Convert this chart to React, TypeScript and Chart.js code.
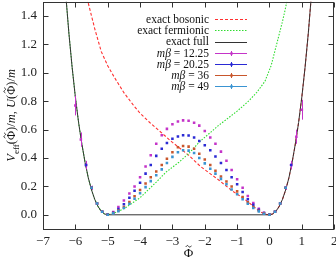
import React, { useEffect, useRef } from "react";
import { Chart, registerables } from "chart.js";

Chart.register(...registerables);

const FONT = "'Liberation Serif', 'Times New Roman', serif";

const xTicks = [-7, -6, -5, -4, -3, -2, -1, 0, 1, 2];
const yTicks = [0, 0.2, 0.4, 0.6, 0.8, 1.0, 1.2, 1.4];

// exact full
const phiFull = [-6.3, -6.2, -6.1, -6.0, -5.9, -5.8, -5.7, -5.6, -5.5, -5.4, -5.3, -5.2, -5.1, -5.0, 0, 0.1, 0.2, 0.3, 0.4, 0.5, 0.6, 0.7, 0.8, 0.9, 1.0, 1.1, 1.2, 1.3];
const uFull = [1.56, 1.28, 1.04, 0.83, 0.65, 0.5, 0.37, 0.26, 0.175, 0.108, 0.059, 0.025, 0.006, 0, 0, 0.006, 0.025, 0.059, 0.108, 0.175, 0.26, 0.37, 0.5, 0.65, 0.83, 1.04, 1.28, 1.56];

// exact bosonic
const phiBos = [-5.66, -5.61, -5.5, -5.4, -5.3, -5.2, -5.0, -4.8, -4.5, -4.2, -4.0, -3.7, -3.4, -3.0, -2.5, -2.13, -1.6, -1.16, -0.8, -0.55, -0.29, -0.1, 0, 0.1, 0.2, 0.3, 0.4, 0.5, 0.6, 0.7, 0.8, 0.9, 1.0, 1.1, 1.2, 1.3];
const vBos = [1.56, 1.5, 1.4, 1.31, 1.23, 1.15, 1.05, 0.97, 0.86, 0.77, 0.715, 0.65, 0.59, 0.51, 0.42, 0.34, 0.25, 0.17, 0.115, 0.07, 0.02, 0.003, 0, 0.006, 0.025, 0.059, 0.108, 0.175, 0.26, 0.37, 0.5, 0.65, 0.83, 1.04, 1.28, 1.56];

// exact fermionic
const phiFer = [-6.3, -6.2, -6.1, -6.0, -5.9, -5.8, -5.7, -5.6, -5.5, -5.4, -5.3, -5.2, -5.1, -5.0, -4.7, -4.45, -4.0, -3.5, -3.2, -2.8, -2.5, -2.18, -1.57, -1.0, -0.65, -0.4, -0.14, 0.05, 0.22, 0.4, 0.5, 0.6];
const vFer = [1.56, 1.28, 1.04, 0.83, 0.65, 0.5, 0.37, 0.26, 0.175, 0.108, 0.059, 0.025, 0.006, 0, 0.02, 0.05, 0.12, 0.23, 0.3, 0.37, 0.43, 0.51, 0.63, 0.73, 0.8, 0.86, 0.94, 1.05, 1.2, 1.36, 1.46, 1.58];

// lattice data
const phiMC = [-6, -5.83, -5.67, -5.5, -5.33, -5.17, -5, -4.83, -4.67, -4.5, -4.33, -4.17, -4, -3.83, -3.67, -3.5, -3.33, -3.17, -3, -2.83, -2.67, -2.5, -2.33, -2.17, -2, -1.83, -1.67, -1.5, -1.33, -1.17, -1, -0.83, -0.67, -0.5, -0.33, -0.17, 0, 0.17, 0.33, 0.5, 0.67, 0.83, 1];

const v1225 = [0.77, 0.53, 0.35, 0.19, 0.08, 0.022,
  0.003, 0.02, 0.055, 0.1, 0.15, 0.2, 0.265, 0.34, 0.42, 0.5, 0.56, 0.605, 0.638, 0.657, 0.665, 0.662,
  0.648, 0.628, 0.59, 0.545, 0.5, 0.445, 0.38, 0.315, 0.25, 0.19, 0.133, 0.083, 0.043, 0.014, 0.002,
  0.022, 0.08, 0.19, 0.35, 0.55, 0.74];
const e1225 = [0.07, 0.05, 0.03, 0.015, 0.008, 0.004,
  0, 0, 0, 0, 0, 0, 0, 0, 0, 0, 0, 0, 0, 0, 0, 0,
  0, 0, 0, 0, 0, 0, 0, 0, 0, 0, 0, 0, 0, 0, 0,
  0.004, 0.008, 0.015, 0.03, 0.05, 0.07];

const v2025 = [null, null, 0.35, 0.19, 0.08, 0.022,
  0.002, 0.015, 0.04, 0.075, 0.12, 0.17, 0.225, 0.29, 0.35, 0.415, 0.465, 0.505, 0.535, 0.552, 0.56, 0.558,
  0.545, 0.52, 0.49, 0.455, 0.41, 0.365, 0.315, 0.265, 0.215, 0.16, 0.11, 0.07, 0.035, 0.012, 0.002,
  0.022, 0.08, 0.19, 0.35, null, null];

const v36 = [null, null, null, 0.19, 0.08, 0.022,
  0.001, 0.012, 0.03, 0.055, 0.09, 0.13, 0.175, 0.22, 0.265, 0.305, 0.35, 0.395, 0.44, 0.475, 0.485, 0.48,
  0.465, 0.43, 0.39, 0.35, 0.31, 0.27, 0.235, 0.2, 0.165, 0.125, 0.088, 0.055, 0.028, 0.01, 0.001,
  0.022, 0.08, 0.19, null, null, null];

const v49 = [null, null, null, 0.19, 0.08, 0.022,
  0.001, 0.01, 0.026, 0.048, 0.078, 0.113, 0.152, 0.195, 0.237, 0.278, 0.32, 0.365, 0.408, 0.44, 0.455, 0.452,
  0.435, 0.4, 0.362, 0.325, 0.29, 0.253, 0.215, 0.178, 0.145, 0.11, 0.078, 0.048, 0.024, 0.008, 0.001,
  0.022, 0.08, 0.19, null, null, null];

const C = {
  bos: "#ff3030",
  fer: "#30dc30",
  full: "#333333",
  m1: "#c434c8",
  m2: "#2a2ad4",
  m3: "#c8562c",
  m4: "#3a94d2",
};

type Part = { t: string; it?: boolean; sub?: boolean; tilde?: boolean };

const legendRows: { parts: Part[]; color: string; dash: number[]; bar: boolean }[] = [
  { parts: [{ t: "exact bosonic" }], color: C.bos, dash: [3, 2], bar: false },
  { parts: [{ t: "exact fermionic" }], color: C.fer, dash: [1.5, 1.5], bar: false },
  { parts: [{ t: "exact full" }], color: C.full, dash: [], bar: false },
  { parts: [{ t: "m", it: true }, { t: "β", it: true }, { t: " = 12.25" }], color: C.m1, dash: [], bar: true },
  { parts: [{ t: "m", it: true }, { t: "β", it: true }, { t: " = 20.25" }], color: C.m2, dash: [], bar: true },
  { parts: [{ t: "m", it: true }, { t: "β", it: true }, { t: " = 36" }], color: C.m3, dash: [], bar: true },
  { parts: [{ t: "m", it: true }, { t: "β", it: true }, { t: " = 49" }], color: C.m4, dash: [], bar: true },
];

const yTitle: Part[] = [
  { t: "V", it: true }, { t: "eff", sub: true }, { t: "(" }, { t: "Φ", tilde: true }, { t: ")/" }, { t: "m", it: true },
  { t: ", " }, { t: "U", it: true }, { t: "(" }, { t: "Φ", tilde: true }, { t: ")/" }, { t: "m", it: true },
];
const xTitle: Part[] = [{ t: "Φ", tilde: true }];

function partFont(p: Part, size: number) {
  const s = p.sub ? Math.round(size * 0.7) : size;
  return `${p.it ? "italic " : ""}${s}px ${FONT}`;
}
function measureParts(ctx: CanvasRenderingContext2D, parts: Part[], size: number) {
  let w = 0;
  for (const p of parts) { ctx.font = partFont(p, size); w += ctx.measureText(p.t).width; }
  return w;
}
function drawTilde(ctx: CanvasRenderingContext2D, cx: number, cy: number, w: number, color: string) {
  ctx.save();
  ctx.strokeStyle = color;
  ctx.lineWidth = 0.9;
  ctx.setLineDash([]);
  ctx.beginPath();
  ctx.moveTo(cx - w / 2, cy + 0.6);
  ctx.bezierCurveTo(cx - w / 4, cy - 1.6, cx - w / 8, cy - 0.8, cx, cy);
  ctx.bezierCurveTo(cx + w / 8, cy + 0.8, cx + w / 4, cy + 1.6, cx + w / 2, cy - 0.6);
  ctx.stroke();
  ctx.restore();
}
// baseline: alphabetic
function drawParts(ctx: CanvasRenderingContext2D, parts: Part[], x: number, y: number, size: number) {
  let cx = x;
  for (const p of parts) {
    ctx.font = partFont(p, size);
    const w = ctx.measureText(p.t).width;
    ctx.fillText(p.t, cx, p.sub ? y + size * 0.28 : y);
    if (p.tilde) drawTilde(ctx, cx + w / 2, y - size * 0.82, size * 0.42, ctx.fillStyle as string);
    cx += w;
  }
}

function pts(xs: number[], ys: (number | null)[], es?: number[]) {
  const out: { x: number; y: number; e: number }[] = [];
  xs.forEach((x, i) => {
    const y = ys[i];
    if (y == null) return;
    out.push({ x, y, e: es ? es[i] : 0 });
  });
  return out;
}

const decor = {
  id: "decor",
  afterDatasetDraw(chart: any, args: any) {
    const ds = chart.data.datasets[args.index];
    if (!ds.errBars) return;
    const ctx = chart.ctx as CanvasRenderingContext2D;
    const xs = chart.scales.x, ys = chart.scales.y, a = chart.chartArea;
    ctx.save();
    ctx.beginPath();
    ctx.rect(a.left, a.top, a.right - a.left, a.bottom - a.top);
    ctx.clip();
    ctx.strokeStyle = ds.backgroundColor;
    ctx.lineWidth = 1;
    for (const p of ds.data) {
      if (!p.e) continue;
      const px = Math.round(xs.getPixelForValue(p.x)) + 0.5;
      ctx.beginPath();
      ctx.moveTo(px, ys.getPixelForValue(p.y - p.e));
      ctx.lineTo(px, ys.getPixelForValue(p.y + p.e));
      ctx.stroke();
    }
    ctx.restore();
  },
  afterDraw(chart: any) {
    const ctx = chart.ctx as CanvasRenderingContext2D;
    const a = chart.chartArea;
    const xs = chart.scales.x, ys = chart.scales.y;
    const L = Math.round(a.left) + 0.5, R = Math.round(a.right) - 0.5;
    const T = Math.round(a.top) + 0.5, B = Math.round(a.bottom) + 0.5;
    ctx.save();
    ctx.strokeStyle = "#333";
    ctx.lineWidth = 1;
    ctx.setLineDash([]);
    ctx.strokeRect(L, T, R - L, B - T);
    const tl = 5;
    ctx.beginPath();
    for (const v of yTicks) {
      const py = Math.round(ys.getPixelForValue(v)) + 0.5;
      ctx.moveTo(L, py); ctx.lineTo(L + tl, py);
      ctx.moveTo(R, py); ctx.lineTo(R - tl, py);
    }
    for (const v of xTicks) {
      const px = Math.round(xs.getPixelForValue(v)) + 0.5;
      ctx.moveTo(px, B); ctx.lineTo(px, B - tl);
      ctx.moveTo(px, T); ctx.lineTo(px, T + tl);
    }
    ctx.stroke();

    ctx.fillStyle = "#111111";
    ctx.textAlign = "left";
    ctx.textBaseline = "alphabetic";

    // x title
    const xw = measureParts(ctx, xTitle, 13);
    drawParts(ctx, xTitle, (a.left + a.right) / 2 - xw / 2, 257, 13);

    // y title
    ctx.save();
    const cy = (a.top + a.bottom) / 2;
    ctx.translate(15, cy);
    ctx.rotate(-Math.PI / 2);
    const tw = measureParts(ctx, yTitle, 12.5);
    drawParts(ctx, yTitle, -tw / 2, 0, 12.5);
    ctx.restore();

    // legend
    const textRight = 209, s0 = 215, s1 = 247;
    const size = 11.5;
    legendRows.forEach((row, i) => {
      const y = 19.3 + i * 11.15;
      ctx.textAlign = "left";
      ctx.textBaseline = "alphabetic";
      ctx.fillStyle = "#111111";
      const w = measureParts(ctx, row.parts, size);
      drawParts(ctx, row.parts, textRight - w, y + 3.8, size);
      const ly = Math.round(y) + 0.5;
      ctx.strokeStyle = row.color;
      ctx.lineWidth = 1;
      ctx.setLineDash(row.dash);
      ctx.beginPath();
      ctx.moveTo(s0, ly); ctx.lineTo(s1, ly);
      ctx.stroke();
      ctx.setLineDash([]);
      if (row.bar) {
        const cx = Math.round((s0 + s1) / 2) + 0.5;
        ctx.beginPath();
        ctx.moveTo(cx, ly - 2.5); ctx.lineTo(cx, ly + 2.5);
        ctx.stroke();
        ctx.fillStyle = row.color;
        ctx.fillRect(cx - 1.2, ly - 1.2, 2.4, 2.4);
      }
    });
    ctx.restore();
  },
};

function lineDs(label: string, xs: number[], ys: number[], color: string, dash: number[], order: number, width: number) {
  return {
    label,
    data: pts(xs, ys),
    showLine: true,
    borderColor: color,
    backgroundColor: color,
    borderWidth: width,
    borderDash: dash,
    pointRadius: 0,
    tension: 0,
    order,
  };
}
function dotDs(label: string, ys: (number | null)[], color: string, order: number, es?: number[]) {
  return {
    label,
    data: pts(phiMC, ys, es),
    showLine: false,
    borderColor: color,
    backgroundColor: color,
    borderWidth: 0,
    pointStyle: "rect",
    pointRadius: 1.8,
    pointHoverRadius: 1.8,
    order,
    errBars: !!es,
  };
}

export default function App() {
  const ref = useRef<HTMLCanvasElement | null>(null);
  useEffect(() => {
    if (!ref.current) return;
    Chart.defaults.font.family = FONT;
    const chart = new Chart(ref.current, {
      type: "scatter",
      data: {
        datasets: [
          lineDs("exact bosonic", phiBos, vBos, C.bos, [3, 2], 7, 1.1),
          lineDs("exact fermionic", phiFer, vFer, C.fer, [1.5, 1.5], 6, 1.1),
          lineDs("exact full", phiFull, uFull, C.full, [], 5, 1),
          dotDs("mβ = 12.25", v1225, C.m1, 4, e1225),
          dotDs("mβ = 20.25", v2025, C.m2, 3),
          dotDs("mβ = 36", v36, C.m3, 2),
          dotDs("mβ = 49", v49, C.m4, 1),
        ] as any,
      },
      options: {
        animation: false,
        responsive: false,
        maintainAspectRatio: false,
        layout: { padding: { left: 0, right: 1, top: 0, bottom: 0 } },
        plugins: { legend: { display: false }, tooltip: { enabled: false } },
        events: [],
        scales: {
          x: {
            type: "linear",
            min: -7,
            max: 2,
            afterBuildTicks: (s: any) => { s.ticks = xTicks.map((v) => ({ value: v })); },
            afterFit: (s: any) => { s.height = 31; s.paddingLeft = 0; s.paddingRight = 0; s.paddingTop = 0; s.paddingBottom = 0; },
            grid: { display: false, drawTicks: false },
            border: { display: false },
            ticks: {
              padding: 5,
              color: "#222",
              font: { family: FONT, size: 13 },
              maxRotation: 0,
              autoSkip: false,
              callback: (v: any) => (Number(v) < 0 ? "\u2212" + Math.abs(Number(v)) : String(v)),
            },
          },
          y: {
            type: "linear",
            min: -0.1,
            max: 1.5,
            afterBuildTicks: (s: any) => { s.ticks = yTicks.map((v) => ({ value: v })); },
            afterFit: (s: any) => { s.width = 43; s.paddingLeft = 0; s.paddingRight = 0; s.paddingTop = 0; s.paddingBottom = 0; },
            grid: { display: false, drawTicks: false },
            border: { display: false },
            ticks: {
              padding: 6,
              color: "#222",
              font: { family: FONT, size: 13 },
              autoSkip: false,
              callback: (v: any) => Number(v).toFixed(1),
            },
          },
        },
      } as any,
      plugins: [decor as any],
    });
    return () => chart.destroy();
  }, []);
  return (
    <div style={{ position: "fixed", left: 0, top: 0, width: 336, height: 260, background: "#fff" }}>
      <canvas ref={ref} width={336} height={260} style={{ display: "block" }} />
    </div>
  );
}
